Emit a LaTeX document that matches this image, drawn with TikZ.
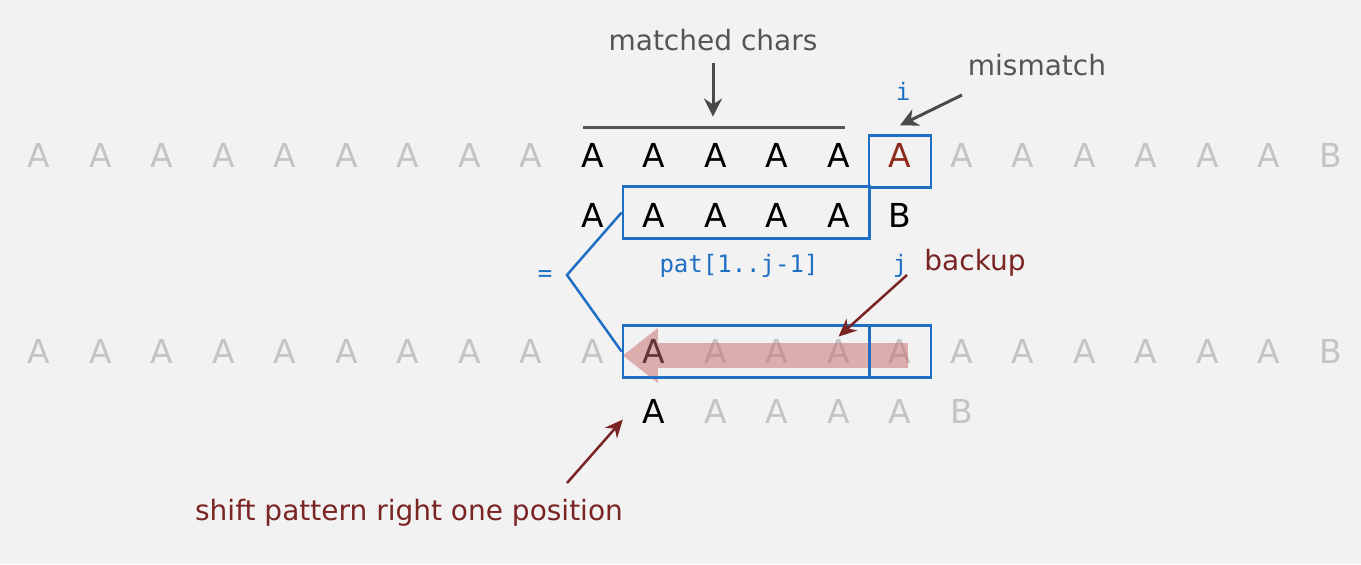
\documentclass[tikz,border=0pt]{standalone}
\usepackage{fontspec}
\setmainfont{DejaVu Sans}
\setmonofont{DejaVu Sans Mono}
\usetikzlibrary{arrows.meta, positioning, fit}
\definecolor{bgcol}{HTML}{F2F2F2}
\definecolor{kmpblue}{HTML}{1F6FC5}
\definecolor{kmpbrown}{HTML}{7A2424}
\definecolor{kmpred}{HTML}{8E2A1C}
\definecolor{labgrey}{HTML}{555555}
\definecolor{arrowgrey}{HTML}{4A4A4A}
\definecolor{fadegrey}{HTML}{C4C4C4}
\definecolor{backpink}{HTML}{C86A6A}
\tikzset{
  chcell/.style={inner sep=0pt, minimum width=30.75pt, text height=18.5pt,
                 text depth=7pt, anchor=base, font=\fontsize{16.5}{18}\selectfont},
  fadecell/.style={chcell, text=fadegrey},
  matchbox/.style={draw=kmpblue, line width=1.25pt, inner sep=0pt},
  lablabel/.style={font=\fontsize{14}{16}\selectfont, text=labgrey, inner sep=2pt},
  notelabel/.style={font=\fontsize{14}{16}\selectfont, text=kmpbrown, inner sep=2pt},
  idxlabel/.style={font=\ttfamily\fontsize{12}{14}\selectfont, text=kmpblue, inner sep=1pt},
  overbar/.style={draw=labgrey, line width=1.5pt},
  greylink/.style={-{Stealth[length=9pt, width=9pt]}, draw=arrowgrey, line width=1.5pt},
  brownlink/.style={-{Stealth[length=9pt, width=8pt]}, draw=kmpbrown, line width=1.25pt},
  eqline/.style={draw=kmpblue, line width=1.25pt},
  backarrow/.style={-{Triangle[length=17.5pt, width=27.5pt, line width=0pt]},
                    draw=backpink, line width=12.5pt, opacity=0.5},
}
\begin{document}
\begin{tikzpicture}[x=0.5pt, y=-0.5pt]
  \path[use as bounding box, fill=bgcol] (0,0) rectangle (1361,564);

  % text, first try
  \foreach \k in {0,...,8}
    \node[fadecell] (t\k) at ({39+61.5*\k},167) {A};
  \foreach \k in {9,...,13}
    \node[chcell] (t\k) at ({39+61.5*\k},167) {A};
  \node[chcell, text=kmpred] (t14) at (900,167) {A};
  \foreach \k in {15,...,20}
    \node[fadecell] (t\k) at ({39+61.5*\k},167) {A};
  \node[fadecell] (t21) at (1330.5,167) {B};

  % pattern under it
  \foreach \k in {0,...,4}
    \node[chcell] (p\k) at ({592.5+61.5*\k},227) {A};
  \node[chcell] (p5) at (900,227) {B};

  % text, second try
  \foreach \k in {0,...,20}
    \node[fadecell] (s\k) at ({39+61.5*\k},363) {A};
  \node[chcell] (s10) at (654,363) {A};
  \node[fadecell] (s21) at (1330.5,363) {B};

  % shifted pattern
  \node[chcell] (q0) at (654,423) {A};
  \foreach \k in {1,...,4}
    \node[fadecell] (q\k) at ({654+61.5*\k},423) {A};
  \node[fadecell] (q5) at (961.5,423) {B};

  \draw[backarrow] ([shift={(4pt,-2pt)}]s14.center) -- ([yshift=-2pt]s10.west);

  \node[matchbox, fit=(t14), yshift=-3pt] (mbox) {};
  \node[matchbox, fit=(p1)(p4), yshift=1.5pt] (pbox) {};
  \node[matchbox, fit=(s10)(s13)] (sbox) {};
  \node[matchbox, fit=(s14)] (nbox) {};

  \draw[overbar] ([shift={(-5pt,1pt)}]t9.north) -- ([shift={(3pt,1pt)}]t13.north);

  \node[lablabel] (mc) at (713,40) {matched chars};
  \draw[greylink, shorten <=4pt] (mc.south) -- ([yshift=6.5pt]t11.north -| mc.south);

  \node[lablabel] (mm) at (1037,65) {mismatch};
  \coordinate (mmfrom) at (962,95);
  \draw[greylink] (mmfrom) -- ([yshift=4.5pt]mbox.north);

  \node[idxlabel, anchor=base] (ilab) at (903,100) {i};
  \node[idxlabel, anchor=base] (patlab) at (739,272) {pat[1..j-1]};
  \node[idxlabel, anchor=base] (jlab) at (900,272) {j};
  \node[notelabel, anchor=base west] (bk) at (920,270) {backup};

  \node[idxlabel] (eq) at (545,276) {=};
  \coordinate (eqv) at (567,275);
  \draw[eqline] (pbox.west) -- (eqv) -- (sbox.west);

  \coordinate (bkfrom) at (907,275);
  \draw[brownlink] (bkfrom) -- ([yshift=-5.5pt]s13.north);

  \node[notelabel, anchor=base] (sh) at (409,520) {shift pattern right one position};
  \coordinate (shfrom) at (567,483);
  \draw[brownlink] (shfrom) -- ([yshift=-4pt]q0.west);
\end{tikzpicture}
\end{document}
